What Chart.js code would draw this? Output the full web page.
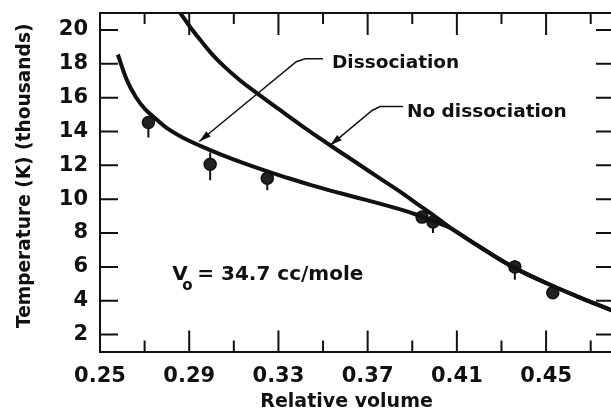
<!DOCTYPE html>
<html lang="en">
<head>
<meta charset="UTF-8">
<title>Temperature vs relative volume</title>
<script src="https://cdn.jsdelivr.net/npm/chart.js"></script>
<style>
  html, body { margin: 0; padding: 0; overflow: hidden; background: #fff; }
  #wrap { width: 625px; height: 415px; }
</style>
</head>
<body>
<div id="wrap"><canvas id="chart" width="625" height="415"></canvas></div>
<script>
// axis ticks
const xTicks = [0.25, 0.27, 0.29, 0.31, 0.33, 0.35, 0.37, 0.39, 0.41, 0.43, 0.45, 0.47];
const yTicks = [2, 4, 6, 8, 10, 12, 14, 16, 18, 20];

// "Dissociation" curve
const dissocX = [0.258, 0.262, 0.266, 0.270, 0.275, 0.280, 0.287, 0.295, 0.304, 0.315, 0.325, 0.335,
                 0.345, 0.355, 0.365, 0.375, 0.385, 0.392, 0.398, 0.4035, 0.4083, 0.420, 0.435, 0.450, 0.465, 0.480];
const dissocY = [18.55, 17.05, 16.05, 15.35, 14.75, 14.2, 13.65, 13.15, 12.65, 12.1, 11.65, 11.22,
                 10.82, 10.45, 10.1, 9.75, 9.38, 9.08, 8.78, 8.5, 8.2, 7.2, 6.0, 5.05, 4.2, 3.4];

// "No dissociation" curve
const noDissocX = [0.286, 0.290, 0.295, 0.300, 0.306, 0.313, 0.3205, 0.330, 0.340, 0.353, 0.365, 0.376,
                   0.385, 0.3935, 0.400, 0.4083, 0.420, 0.435, 0.450, 0.465, 0.480];
const noDissocY = [21.0, 20.25, 19.4, 18.6, 17.8, 17.0, 16.25, 15.33, 14.38, 13.2, 12.15, 11.18,
                   10.4, 9.6, 9.0, 8.2, 7.2, 6.0, 5.05, 4.2, 3.4];

// measured points with error bars
const pointsX = [0.2717, 0.2994, 0.3250, 0.3944, 0.3993, 0.4360, 0.4530];
const pointsY = [14.53, 12.06, 11.24, 8.94, 8.65, 6.00, 4.47];
const errHigh = [14.53, 12.76, 11.24, 8.94, 8.65, 6.41, 4.47];
const errLow  = [13.65, 11.12, 10.53, 8.94, 8.00, 5.24, 4.47];

const ink = '#111';
const family = '"DejaVu Sans", sans-serif';

const toXY = (xs, ys) => xs.map((v, i) => ({ x: v, y: ys[i] }));

// error bars under the dots
const errorBars = {
    id: 'errorBars',
    beforeDatasetsDraw(chart) {
        const { ctx, scales: { x, y } } = chart;
        ctx.save();
        ctx.strokeStyle = ink;
        ctx.lineWidth = 2;
        ctx.beginPath();
        pointsX.forEach((v, i) => {
            if (errHigh[i] === errLow[i]) return;
            const px = x.getPixelForValue(v);
            ctx.moveTo(px, y.getPixelForValue(errHigh[i]));
            ctx.lineTo(px, y.getPixelForValue(errLow[i]));
        });
        ctx.stroke();
        ctx.restore();
    }
};

function arrowLine(ctx, pts) {
    ctx.beginPath();
    ctx.moveTo(pts[0][0], pts[0][1]);
    for (let i = 1; i < pts.length; i++) ctx.lineTo(pts[i][0], pts[i][1]);
    ctx.stroke();
    const [ax, ay] = pts[pts.length - 2];
    const [bx, by] = pts[pts.length - 1];
    const ang = Math.atan2(by - ay, bx - ax);
    const len = 12, half = 3.5;
    ctx.beginPath();
    ctx.moveTo(bx, by);
    ctx.lineTo(bx - len * Math.cos(ang) + half * Math.sin(ang), by - len * Math.sin(ang) - half * Math.cos(ang));
    ctx.lineTo(bx - len * Math.cos(ang) - half * Math.sin(ang), by - len * Math.sin(ang) + half * Math.cos(ang));
    ctx.closePath();
    ctx.fill();
}

// frame, inward ticks and labels
const frame = {
    id: 'frame',
    afterDraw(chart) {
        const { ctx, chartArea: a, scales: { x, y } } = chart;
        ctx.save();
        ctx.strokeStyle = ink;
        ctx.fillStyle = ink;
        ctx.lineWidth = 2;
        ctx.beginPath();
        ctx.moveTo(a.left, a.top);
        ctx.lineTo(a.right, a.top);
        ctx.lineTo(a.right, a.bottom);
        y.ticks.forEach(t => {
            const py = y.getPixelForValue(t.value);
            ctx.moveTo(a.left, py); ctx.lineTo(a.left + 18, py);
            ctx.moveTo(a.right - 17, py); ctx.lineTo(a.right, py);
        });
        x.ticks.forEach((t, i) => {
            if (i === 0) return;
            const px = x.getPixelForValue(t.value);
            const major = i % 2 === 0;
            ctx.moveTo(px, a.bottom); ctx.lineTo(px, a.bottom - (major ? 21 : 11));
            ctx.moveTo(px, a.top); ctx.lineTo(px, a.top + (major ? 22 : 11));
        });
        ctx.stroke();

        const P = (vx, vy) => [x.getPixelForValue(vx), y.getPixelForValue(vy)];
        ctx.lineWidth = 1.5;
        arrowLine(ctx, [P(0.350, 18.29), P(0.342, 18.29), P(0.338, 18.12), P(0.2945, 13.41)]);
        arrowLine(ctx, [P(0.3859, 15.47), P(0.3756, 15.47), P(0.372, 15.24), P(0.3532, 13.18)]);

        ctx.textBaseline = 'alphabetic';
        ctx.textAlign = 'left';
        ctx.font = 'bold 18.5px ' + family;
        let [tx, ty] = P(0.354, 17.76);
        ctx.fillText('Dissociation', tx, ty);
        [tx, ty] = P(0.3876, 14.88);
        ctx.fillText('No dissociation', tx, ty);

        [tx, ty] = P(0.2824, 5.24);
        ctx.font = 'bold 20px ' + family;
        ctx.fillText('V', tx, ty);
        ctx.fillText('= 34.7 cc/mole', tx + 25, ty);
        ctx.font = 'bold 15px ' + family;
        ctx.fillText('o', tx + 10, ty + 10);
        ctx.restore();
    }
};

new Chart(document.getElementById('chart'), {
    type: 'scatter',
    data: {
        datasets: [
            {
                label: 'Dissociation',
                data: toXY(dissocX, dissocY),
                showLine: true,
                borderColor: ink,
                borderWidth: 4,
                pointRadius: 0,
                tension: 0.4
            },
            {
                label: 'No dissociation',
                data: toXY(noDissocX, noDissocY),
                showLine: true,
                borderColor: ink,
                borderWidth: 4,
                pointRadius: 0,
                tension: 0.4
            },
            {
                label: 'Measured',
                data: toXY(pointsX, pointsY),
                pointRadius: 6,
                pointBackgroundColor: '#222',
                pointBorderColor: ink,
                pointBorderWidth: 1.5
            }
        ]
    },
    options: {
        responsive: false,
        animation: false,
        layout: { padding: { top: 13, right: 12, left: 0, bottom: 0 } },
        plugins: { legend: { display: false }, tooltip: { enabled: false } },
        scales: {
            x: {
                type: 'linear',
                min: 0.25,
                max: 0.48,
                afterBuildTicks: s => { s.ticks = xTicks.map(v => ({ value: v })); },
                afterFit: s => { s.height = 63.5; s.paddingLeft = 0; s.paddingRight = 0; },
                grid: { display: false, drawTicks: false },
                border: { display: true, color: ink, width: 2 },
                ticks: {
                    autoSkip: false,
                    maxRotation: 0,
                    padding: 12,
                    color: ink,
                    font: { family: family, size: 21, weight: 'bold' },
                    callback: (v, i) => (i % 2 === 0 ? v.toFixed(2) : '')
                },
                title: {
                    display: true,
                    text: 'Relative volume   ',
                    color: ink,
                    font: { family: family, size: 19, weight: 'bold' },
                    padding: { top: 0, bottom: 2 }
                }
            },
            y: {
                min: 1,
                max: 21,
                afterBuildTicks: s => { s.ticks = yTicks.map(v => ({ value: v })); },
                afterFit: s => { s.width = 100; s.paddingTop = 0; s.paddingBottom = 0; },
                grid: { display: false, drawTicks: false },
                border: { display: true, color: ink, width: 2 },
                ticks: {
                    padding: 12,
                    color: ink,
                    font: { family: family, size: 21, weight: 'bold' }
                },
                title: {
                    display: true,
                    text: '  Temperature (K) (thousands)',
                    color: ink,
                    font: { family: family, size: 18.6, weight: 'bold' },
                    padding: { top: 14, bottom: 0 }
                }
            }
        }
    },
    plugins: [errorBars, frame]
});
</script>
</body>
</html>
